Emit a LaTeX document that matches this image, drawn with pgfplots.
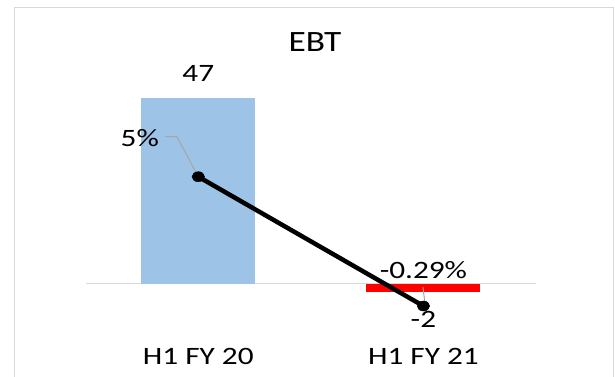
\documentclass[border=0pt]{standalone}
\usepackage{pgfplots}
\pgfplotsset{compat=1.18}
\usepackage{fontspec}
\setmainfont{Carlito}
\definecolor{barblue}{HTML}{9DC3E6}
\definecolor{framegray}{HTML}{D9D9D9}
\definecolor{leadgray}{HTML}{A6A6A6}
\begin{document}
\begin{tikzpicture}[x=1pt,y=1pt]
\useasboundingbox (0,0) rectangle (615,376);
\draw[framegray, line width=1pt] (14.5,-10) rectangle (613,368.7);
\node[anchor=base, xscale=1.2, inner sep=0pt, font=\fontsize{29.5}{35}\selectfont] at (315,325) {EBT};
\pgfplotsset{myax/.style={at={(85.7pt,52.85pt)}, anchor=south west,
  scale only axis, width=450.3pt, height=276.15pt,
  xmin=-0.5, xmax=1.5, axis lines=none, clip=false}}
\tikzset{lab/.style={inner sep=0pt, xscale=1.25, font=\fontsize{25}{30}\selectfont}}
\begin{axis}[myax, ymin=-10, ymax=60]
\addplot[framegray, line width=1pt, forget plot] coordinates {(-0.5,0) (1.5,0)};
\addplot[ybar, bar width=114pt, bar shift=0pt, fill=barblue, draw=none] coordinates {(0,47)};
\addplot[ybar, bar width=114pt, bar shift=0pt, fill=red, draw=none] coordinates {(1,-2)};
\node[lab, anchor=base, yshift=16.6pt] at (axis cs:0,47) {47};
\node[lab, anchor=base, yshift=-36.4pt] at (axis cs:1,-2) {-2};
\node[lab, anchor=base, yshift=-40.85pt] at (axis cs:0,-10) {H1 FY 20};
\node[lab, anchor=base, yshift=-40.85pt] at (axis cs:1,-10) {H1 FY 21};
\end{axis}
\begin{axis}[myax, ymin=-0.992, ymax=10.307]
\draw[leadgray, line width=1pt] (axis cs:0,5) ++(-33.3pt,40pt) -- ++(12pt,0pt) -- (axis cs:0,5);
\draw[leadgray, line width=1pt] (axis cs:1,-0.29) ++(-0.5pt,19pt) -- ++(2pt,-16pt);
\addplot[black, line width=4.5pt, line cap=round, mark=*, mark size=5pt,
  mark options={xscale=1.25, line width=0.5pt}] coordinates {(0,5) (1,-0.29)};
\node[lab, anchor=base east, xshift=-31.3pt, yshift=30.7pt] at (axis cs:0,5) {5\%};
\node[lab, anchor=base, yshift=27.7pt] at (axis cs:1,-0.29) {-0.29\%};
\end{axis}
\end{tikzpicture}
\end{document}
